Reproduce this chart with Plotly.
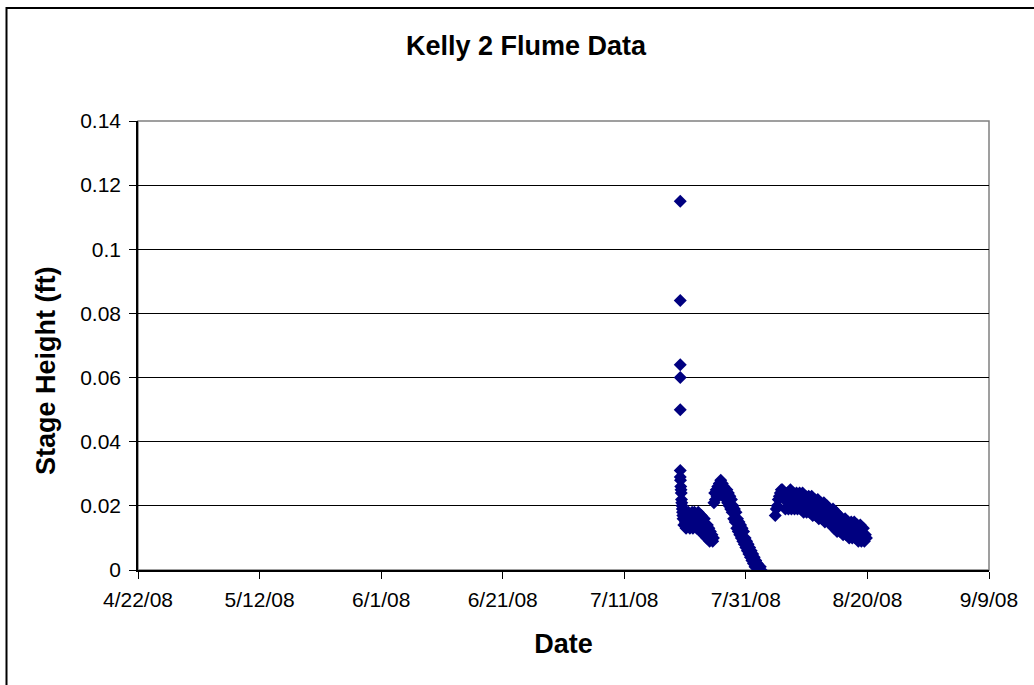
import pandas as pd
import plotly.graph_objects as go

# ---- data ----
spike_time = "2008-07-20 05:00"
spike_values = [0.115, 0.084, 0.064, 0.060, 0.050, 0.031]

col_start, col_freq = "2008-07-20 05:00", "1h"
col_values = [0.029, 0.028, 0.026, 0.025, 0.024, 0.022, 0.021, 0.020,
              0.019, 0.018, 0.017]

seg1_start, seg1_freq = "2008-07-20 16:00", "3h"
seg1_values = [
    0.016, 0.014, 0.018, 0.015, 0.013, 0.017, 0.014, 0.018, 0.015, 0.013,
    0.017, 0.014, 0.018, 0.013, 0.016, 0.018, 0.014, 0.017, 0.013, 0.016,
    0.018, 0.014, 0.016, 0.012, 0.017, 0.013, 0.015, 0.011, 0.016, 0.012,
    0.014, 0.010, 0.014, 0.011, 0.013, 0.009, 0.012, 0.010, 0.011, 0.009,
    0.010,
]

seg2_start, seg2_freq = "2008-07-25 18:00", "3h"
seg2_values = [
    0.021, 0.024, 0.022, 0.025, 0.023, 0.026, 0.024, 0.027, 0.025, 0.028,
    0.025, 0.027, 0.024, 0.026, 0.023, 0.025, 0.022, 0.025, 0.021, 0.024,
    0.020, 0.023, 0.019, 0.022, 0.018, 0.020, 0.016, 0.019, 0.015, 0.018,
    0.013, 0.016, 0.012, 0.015, 0.011, 0.014, 0.010, 0.013, 0.009, 0.012,
    0.008, 0.010, 0.007, 0.009, 0.006, 0.008, 0.005, 0.007, 0.004, 0.006,
    0.003, 0.005, 0.002, 0.004, 0.001, 0.003, 0.001, 0.002, 0.000, 0.001,
    0.000, 0.001, 0.000,
]

seg3_start, seg3_freq = "2008-08-04 20:00", "4h"
seg3_values = [
    0.017, 0.019, 0.020, 0.022, 0.023, 0.024, 0.025, 0.025, 0.024, 0.022,
    0.019, 0.022, 0.024, 0.019, 0.022, 0.025, 0.019, 0.022, 0.024, 0.019,
    0.022, 0.024, 0.019, 0.021, 0.024, 0.019, 0.021, 0.024, 0.018, 0.021,
    0.023, 0.018, 0.021, 0.023, 0.018, 0.020, 0.023, 0.017, 0.020, 0.022,
    0.017, 0.019, 0.022, 0.016, 0.019, 0.021, 0.016, 0.018, 0.021, 0.015,
    0.018, 0.020, 0.015, 0.017, 0.019, 0.014, 0.016, 0.019, 0.013, 0.016,
    0.018, 0.012, 0.015, 0.017, 0.012, 0.014, 0.016, 0.011, 0.014, 0.016,
    0.011, 0.013, 0.015, 0.010, 0.013, 0.015, 0.010, 0.012, 0.015, 0.010,
    0.012, 0.014, 0.009, 0.011, 0.014, 0.009, 0.011, 0.013, 0.009, 0.011,
    0.010,
]

x_tick_dates = ["2008-04-22", "2008-05-12", "2008-06-01", "2008-06-21",
                "2008-07-11", "2008-07-31", "2008-08-20", "2008-09-09"]
x_tick_labels = ["4/22/08", "5/12/08", "6/1/08", "6/21/08",
                 "7/11/08", "7/31/08", "8/20/08", "9/9/08"]
y_tick_vals = [0, 0.02, 0.04, 0.06, 0.08, 0.1, 0.12, 0.14]
y_tick_labels = ["0", "0.02", "0.04", "0.06", "0.08", "0.1", "0.12", "0.14"]

# ---- assemble ----
times = [pd.Timestamp(spike_time)] * len(spike_values)
values = list(spike_values)
for start, freq, vals in [(col_start, col_freq, col_values),
                          (seg1_start, seg1_freq, seg1_values),
                          (seg2_start, seg2_freq, seg2_values),
                          (seg3_start, seg3_freq, seg3_values)]:
    times += list(pd.date_range(start, periods=len(vals), freq=freq))
    values += vals

FONT = "Liberation Sans, Arial, sans-serif"
NAVY = "#000080"

fig = go.Figure()
fig.add_trace(go.Scatter(
    x=times, y=values, mode="markers",
    marker=dict(symbol="diamond", size=10, color=NAVY, line=dict(width=0)),
    showlegend=False,
))

W, H = 1034, 685
L, R, T, B = 138, 989, 121, 570
pw, ph = R - L, B - T

fig.update_layout(
    width=W, height=H,
    margin=dict(l=L, r=W - R, t=T, b=H - B),
    paper_bgcolor="white", plot_bgcolor="white",
    font=dict(family=FONT, size=21, color="black"),
    title=dict(text="<b>Kelly 2 Flume Data</b>", x=526 / W, xanchor="center",
               y=1 - 46 / H, yanchor="middle",
               font=dict(family=FONT, size=27, color="black")),
    xaxis=dict(
        type="date", range=["2008-04-22", "2008-09-09"],
        tickmode="array", tickvals=x_tick_dates, ticktext=x_tick_labels,
        ticks="outside", ticklen=7, tickcolor="black", tickwidth=1,
        ticklabelstandoff=3,
        showline=True, linecolor="black", linewidth=1.5,
        showgrid=False, zeroline=False,
        tickfont=dict(family=FONT, size=21, color="black"),
        title=dict(text="<b>Date</b>", standoff=24,
                   font=dict(family=FONT, size=27, color="black")),
    ),
    yaxis=dict(
        range=[0, 0.14], tickmode="array", tickvals=y_tick_vals,
        ticktext=y_tick_labels,
        ticks="outside", ticklen=7, tickcolor="black", tickwidth=1,
        ticklabelstandoff=4,
        showline=True, linecolor="black", linewidth=1.5,
        showgrid=True, gridcolor="black", gridwidth=1, zeroline=False,
        tickfont=dict(family=FONT, size=21, color="black"),
    ),
    annotations=[
        dict(text="<b>Stage Height (ft)</b>", xref="paper", yref="paper",
             x=(46 - L) / pw, y=(B - 371) / ph, xanchor="center",
             yanchor="middle", textangle=-90, showarrow=False,
             font=dict(family=FONT, size=27, color="black")),
    ],
    shapes=[
        dict(type="rect", xref="paper", yref="paper", x0=0, x1=1, y0=0, y1=1,
             line=dict(color="#808080", width=1.5), layer="below"),
        dict(type="rect", xref="paper", yref="paper",
             x0=(6.5 - L) / pw, x1=1.1, y0=-0.35, y1=(B - 8) / ph,
             line=dict(color="black", width=2)),
    ],
)

fig.write_html("out.html")
